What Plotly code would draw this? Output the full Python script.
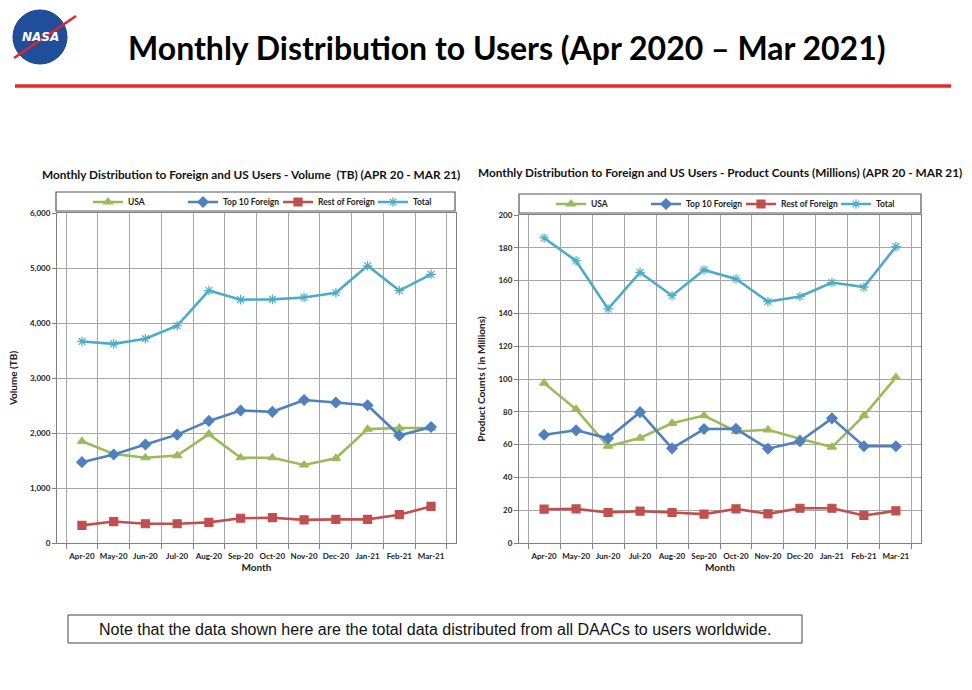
import plotly.graph_objects as go

months = ["Apr-20", "May-20", "Jun-20", "Jul-20", "Aug-20", "Sep-20",
          "Oct-20", "Nov-20", "Dec-20", "Jan-21", "Feb-21", "Mar-21"]

# volume (TB)
vol_usa = [1850, 1620, 1550, 1590, 1980, 1550, 1550, 1420, 1540, 2070, 2090, 2090]
vol_top10 = [1470, 1610, 1790, 1970, 2220, 2410, 2385, 2600, 2555, 2505, 1955, 2110]
vol_rest = [320, 390, 350, 350, 375, 450, 460, 420, 430, 430, 515, 665]
vol_total = [3665, 3620, 3715, 3950, 4590, 4425, 4430, 4465, 4550, 5040, 4590, 4885]

# product counts (millions)
cnt_usa = [97.5, 81.5, 59, 64, 73, 77.7, 68, 69, 63.5, 58.5, 77.7, 101]
cnt_top10 = [66, 68.7, 63.8, 79.8, 57.7, 69.5, 69.6, 57.5, 62, 76, 59, 59]
cnt_rest = [20.6, 20.8, 18.6, 19.4, 18.6, 17.6, 20.8, 17.8, 21.2, 21.2, 16.8, 19.6]
cnt_total = [186, 172, 142.7, 165, 150.8, 166.5, 161, 147.2, 150.3, 158.8, 156, 180.7]

series_names = ["USA", "Top 10 Foreign", "Rest of Foreign", "Total"]
colors = ["#9BBB59", "#4F81BD", "#C0504D", "#4BACC6"]
symbols = ["triangle-up", "diamond", "square", "asterisk-open"]

W, H = 972, 690
FONT = "Lato"


def px(x):
    return x / W


def py(y):
    return 1 - y / H


fig = go.Figure()

for i, (vals_l, vals_r) in enumerate(zip([vol_usa, vol_top10, vol_rest, vol_total],
                                         [cnt_usa, cnt_top10, cnt_rest, cnt_total])):
    mk = dict(symbol=symbols[i], size=8, color=colors[i],
              line=dict(color=colors[i], width=1.2))
    fig.add_trace(go.Scatter(x=months, y=vals_l, name=series_names[i],
                             mode="lines+markers", line=dict(color=colors[i], width=2.6),
                             marker=mk, xaxis="x", yaxis="y", legend="legend"))
    fig.add_trace(go.Scatter(x=months, y=vals_r, name=series_names[i],
                             mode="lines+markers", line=dict(color=colors[i], width=2.6),
                             marker=mk, xaxis="x2", yaxis="y2", legend="legend2"))

tickfont = dict(family=FONT, size=8, color="#222", weight="bold")
xcommon = dict(type="category", tickson="boundaries", showgrid=True, gridcolor="#a6a6a6",
               gridwidth=1, showline=True, linecolor="#808080", mirror=True,
               ticks="outside", ticklen=5, tickcolor="#808080", tickfont=tickfont,
               tickangle=0, automargin=False, ticklabelstandoff=5,
               title=dict(text="<b>Month</b>", font=dict(family=FONT, size=10, color="#222"),
                          standoff=3))
ycommon = dict(showgrid=True, gridcolor="#a6a6a6", gridwidth=1, showline=True,
               linecolor="#808080", mirror=True, ticks="outside", ticklen=4,
               tickcolor="#808080", tickfont=tickfont, zeroline=False, automargin=False)

legend_common = dict(orientation="h", xanchor="left", yanchor="middle",
                     entrywidth=50,
                     font=dict(family=FONT, size=8.5, color="#222", weight="bold"),
                     bgcolor="rgba(0,0,0,0)", itemwidth=30, tracegroupgap=0)

fig.update_layout(
    width=W, height=H,
    margin=dict(l=0, r=0, t=0, b=0),
    paper_bgcolor="white", plot_bgcolor="white",
    font=dict(family=FONT, color="#222"),
    xaxis=dict(xcommon, domain=[px(57), px(456)], anchor="y"),
    yaxis=dict(ycommon, domain=[py(543), py(213)], anchor="x", range=[0, 6000],
               dtick=1000, tickformat=",d",
               title=dict(text="<b>Volume (TB)</b>", font=dict(family=FONT, size=10),
                          standoff=10)),
    xaxis2=dict(xcommon, domain=[px(519), px(921)], anchor="y2"),
    yaxis2=dict(ycommon, domain=[py(543), py(215)], anchor="x2", range=[0, 200],
                dtick=20,
                title=dict(text="<b>Product Counts ( in Millions)</b>",
                           font=dict(family=FONT, size=10), standoff=10)),
    legend=dict(legend_common, x=px(88), y=py(202)),
    legend2=dict(legend_common, x=px(551), y=py(204)),
)

shapes = [
    # legend boxes
    dict(type="rect", xref="paper", yref="paper", x0=px(56), x1=px(455),
         y0=py(211), y1=py(192), line=dict(color="#555", width=1.2)),
    dict(type="rect", xref="paper", yref="paper", x0=px(519), x1=px(921),
         y0=py(213), y1=py(194), line=dict(color="#555", width=1.2)),
    # red rule under the title
    dict(type="line", xref="paper", yref="paper", x0=px(15), x1=px(951),
         y0=py(86), y1=py(86), line=dict(color="#E8262B", width=3.5)),
    # note box
    dict(type="rect", xref="paper", yref="paper", x0=px(68), x1=px(802),
         y0=py(643), y1=py(615), line=dict(color="#444", width=1)),
    # nasa logo
    dict(type="circle", xref="paper", yref="paper", x0=px(13), x1=px(67),
         y0=py(64), y1=py(10), fillcolor="#1F4E9A", line=dict(color="#173f80", width=1)),
    dict(type="line", xref="paper", yref="paper", x0=px(14), x1=px(76),
         y0=py(58), y1=py(16), line=dict(color="#E0262B", width=2.5)),
]

center = dict(xref="paper", yref="paper", showarrow=False, xanchor="center",
              yanchor="middle")
annotations = [
    dict(center, text="<b>Monthly Distribution to Users (Apr 2020 \u2013 Mar 2021)</b>",
         x=px(507), y=py(47), font=dict(family=FONT, size=32, color="black")),
    dict(center, text="<b>Monthly Distribution to Foreign and US Users - Volume  (TB) (APR 20 - MAR 21)</b>",
         x=px(251), y=py(174), font=dict(family=FONT, size=11.8, color="#111")),
    dict(center, text="<b>Monthly Distribution to Foreign and US Users - Product Counts (Millions) (APR 20 - MAR 21)</b>",
         x=px(720), y=py(173), font=dict(family=FONT, size=11.8, color="#111")),
    dict(center, text="Note that the data shown here are the total data distributed from all DAACs to users worldwide.",
         x=px(435), y=py(629), font=dict(family="Liberation Sans", size=16, color="#111")),
    dict(center, text="<b><i>NASA</i></b>", x=px(40), y=py(37),
         font=dict(family="DejaVu Sans", size=12, color="white")),
]

fig.update_layout(shapes=shapes, annotations=annotations)

fig.write_html("out.html", config={"displayModeBar": False},
               post_script="document.body.style.margin='0px';")
